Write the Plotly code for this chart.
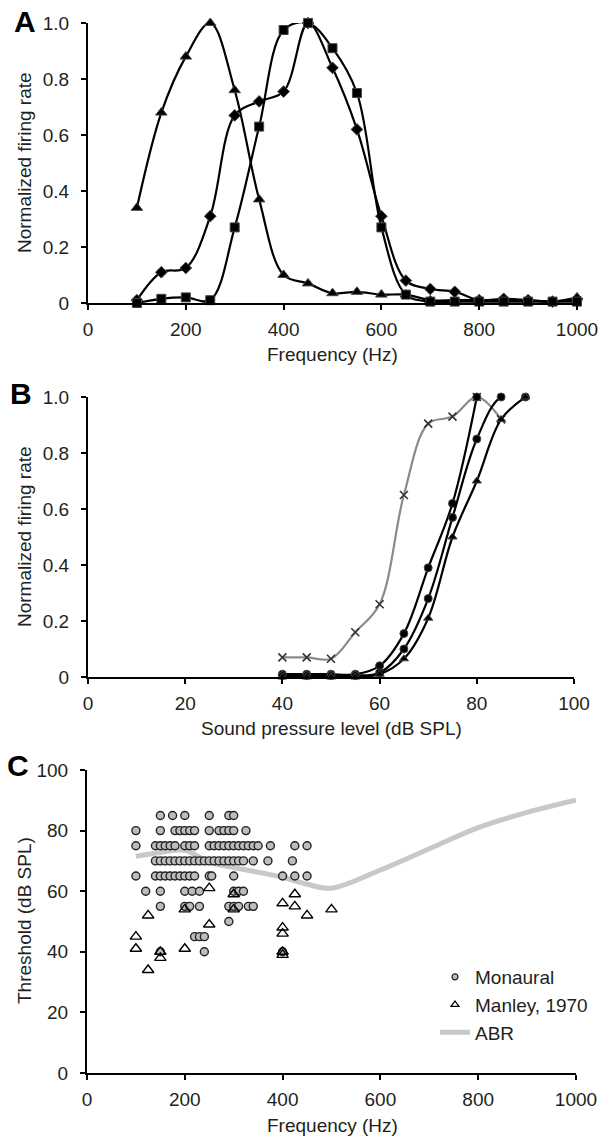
import plotly.graph_objects as go

# ---------------- Panel A: frequency tuning ----------------
freq_a = [100, 150, 200, 250, 300, 350, 400, 450, 500, 550, 600, 650, 700, 750, 800, 850, 900, 950, 1000]
tri_a = [0.34, 0.68, 0.88, 1.0, 0.76, 0.37, 0.10, 0.07, 0.035, 0.04, 0.03, 0.03, 0.01, 0.01, 0.01, 0.01, 0.01, 0.005, 0.02]
sq_a = [0.0, 0.015, 0.02, 0.01, 0.27, 0.63, 0.975, 1.0, 0.91, 0.75, 0.27, 0.03, 0.005, 0.005, 0.005, 0.005, 0.005, 0.005, 0.005]
dia_a = [0.01, 0.11, 0.125, 0.31, 0.67, 0.72, 0.755, 1.0, 0.84, 0.62, 0.31, 0.08, 0.05, 0.04, 0.01, 0.015, 0.01, 0.005, 0.015]

# ---------------- Panel B: rate-level functions ----------------
spl_b = [40, 45, 50, 55, 60, 65, 70, 75, 80, 85, 90]
gray_b = [0.07, 0.07, 0.065, 0.16, 0.26, 0.65, 0.905, 0.93, 1.0, 0.92]
s1_b = [0.01, 0.01, 0.01, 0.01, 0.04, 0.155, 0.39, 0.62, 1.0]
s2_b = [0.005, 0.005, 0.005, 0.005, 0.015, 0.10, 0.28, 0.57, 0.85, 1.0, 1.0]
s3_b = [0.0, 0.0, 0.0, 0.0, 0.01, 0.065, 0.21, 0.50, 0.70, 0.92, 1.0]

# ---------------- Panel C: thresholds ----------------
mon_85 = [150, 175, 200, 250, 290, 300]
mon_80 = [100, 150, 180, 190, 200, 210, 220, 250, 270, 280, 290, 300, 325]
mon_75 = [100, 140, 150, 160, 170, 180, 200, 210, 220, 250, 260, 270, 280, 290, 300, 310, 320, 330, 340, 350, 375, 425, 450]
mon_70 = [140, 150, 160, 170, 180, 190, 200, 210, 220, 230, 240, 250, 260, 270, 280, 290, 300, 310, 320, 340, 370, 420]
mon_65 = [100, 140, 150, 160, 170, 180, 190, 200, 210, 220, 250, 255, 300, 400, 425, 450]
mon_60 = [120, 150, 200, 215, 230, 300, 310, 320]
mon_55 = [150, 200, 210, 230, 290, 300, 310, 330, 340]
mon_50 = [290]
mon_45 = [220, 230, 240]
mon_40 = [150, 240, 400]
mon_rows = {85: mon_85, 80: mon_80, 75: mon_75, 70: mon_70, 65: mon_65,
            60: mon_60, 55: mon_55, 50: mon_50, 45: mon_45, 40: mon_40}

man_freq = [100, 100, 125, 125, 150, 150, 200, 200, 250, 250, 300, 300, 400, 400, 400, 400, 400, 425, 425, 450, 500]
man_thr = [45, 41, 52, 34, 40, 38, 54, 41, 61, 49, 59, 54, 56, 48, 46, 40, 39, 59, 55, 52, 54]

abr_freq = [100, 150, 200, 250, 300, 400, 450, 500, 600, 700, 800, 900, 1000]
abr_thr = [71.5, 72.8, 73.5, 69.6, 67.8, 64.6, 62.3, 61, 67, 74, 81, 86, 90]

ticks_a_y = [0, 0.2, 0.4, 0.6, 0.8, 1.0]
ticks_a_y_text = ["0", "0.2", "0.4", "0.6", "0.8", "1.0"]
ticks_freq = [0, 200, 400, 600, 800, 1000]
ticks_spl = [0, 20, 40, 60, 80, 100]
ticks_thr = [0, 20, 40, 60, 80, 100]

W, H = 603, 1138
FONT = "Liberation Sans, Arial, sans-serif"
TXT = "#231f20"

mon_x = [f for thr, fl in mon_rows.items() for f in fl]
mon_y = [thr for thr, fl in mon_rows.items() for f in fl]

fig = go.Figure()

line_k = dict(color="black", width=2.2, shape="spline", smoothing=1)
mk_edge = dict(color="#444", width=1)

# Panel A
fig.add_trace(go.Scatter(x=freq_a, y=tri_a, mode="lines+markers", line=line_k, cliponaxis=False,
                         marker=dict(symbol="triangle-up", size=10, color="black", line=mk_edge),
                         xaxis="x", yaxis="y", showlegend=False))
fig.add_trace(go.Scatter(x=freq_a, y=dia_a, mode="lines+markers", line=line_k, cliponaxis=False,
                         marker=dict(symbol="diamond", size=9, color="black", line=mk_edge),
                         xaxis="x", yaxis="y", showlegend=False))
fig.add_trace(go.Scatter(x=freq_a, y=sq_a, mode="lines+markers", line=line_k, cliponaxis=False,
                         marker=dict(symbol="square", size=9, color="black", line=mk_edge),
                         xaxis="x", yaxis="y", showlegend=False))

# Panel B
fig.add_trace(go.Scatter(x=spl_b[:len(gray_b)], y=gray_b, mode="lines+markers", cliponaxis=False,
                         line=dict(color="#8a8a8a", width=2.2, shape="spline", smoothing=1),
                         marker=dict(symbol="x-thin", size=8, color="#333", line=dict(color="#333", width=1.6)),
                         xaxis="x2", yaxis="y2", showlegend=False))
fig.add_trace(go.Scatter(x=spl_b[:len(s1_b)], y=s1_b, mode="lines+markers", line=line_k, cliponaxis=False,
                         marker=dict(symbol="circle", size=8, color="black", line=mk_edge),
                         xaxis="x2", yaxis="y2", showlegend=False))
fig.add_trace(go.Scatter(x=spl_b, y=s2_b, mode="lines+markers", line=line_k, cliponaxis=False,
                         marker=dict(symbol="circle", size=8, color="black", line=mk_edge),
                         xaxis="x2", yaxis="y2", showlegend=False))
fig.add_trace(go.Scatter(x=spl_b, y=s3_b, mode="lines+markers", line=line_k, cliponaxis=False,
                         marker=dict(symbol="triangle-up", size=8, color="black", line=mk_edge),
                         xaxis="x2", yaxis="y2", showlegend=False))

# Panel C
fig.add_trace(go.Scatter(x=abr_freq, y=abr_thr, mode="lines",
                         line=dict(color="#c8c8c8", width=5, shape="spline", smoothing=1),
                         xaxis="x3", yaxis="y3", showlegend=False))
fig.add_trace(go.Scatter(x=mon_x, y=mon_y, mode="markers",
                         marker=dict(symbol="circle", size=8, color="#bdbdbd", line=dict(color="#222", width=1.4)),
                         xaxis="x3", yaxis="y3", showlegend=False))
fig.add_trace(go.Scatter(x=man_freq, y=man_thr, mode="markers",
                         marker=dict(symbol="triangle-up-open", size=10, color="black", line=dict(color="black", width=1.4)),
                         xaxis="x3", yaxis="y3", showlegend=False))
# legend entries
fig.add_trace(go.Scatter(x=[None], y=[None], mode="markers", name="Monaural",
                         marker=dict(symbol="circle", size=6, color="#bdbdbd", line=dict(color="#222", width=1.2)),
                         xaxis="x3", yaxis="y3"))
fig.add_trace(go.Scatter(x=[None], y=[None], mode="markers", name="Manley, 1970",
                         marker=dict(symbol="triangle-up-open", size=7, color="black", line=dict(color="black", width=1.2)),
                         xaxis="x3", yaxis="y3"))
fig.add_trace(go.Scatter(x=[None], y=[None], mode="lines", name="ABR",
                         line=dict(color="#c8c8c8", width=5), xaxis="x3", yaxis="y3"))


def xdom(l, r):
    return [l / W, r / W]


def ydom(top, bottom):
    return [1 - bottom / H, 1 - top / H]


axis_common = dict(showline=True, linecolor="black", linewidth=2, ticks="outside", ticklen=5,
                   tickwidth=2, tickcolor="black", showgrid=False, zeroline=False,
                   tickfont=dict(family=FONT, size=19, color=TXT), automargin=False, fixedrange=True)

fig.update_layout(
    width=W, height=H, margin=dict(l=0, r=0, t=0, b=0),
    paper_bgcolor="white", plot_bgcolor="white",
    font=dict(family=FONT, size=19, color=TXT),
    xaxis=dict(domain=xdom(88, 577), anchor="y", range=[0, 1000], tickvals=ticks_freq,
               ticklabelstandoff=3, **axis_common),
    yaxis=dict(domain=ydom(23, 303), anchor="x", range=[0, 1], tickvals=ticks_a_y,
               ticktext=ticks_a_y_text, ticklabelstandoff=8, **axis_common),
    xaxis2=dict(domain=xdom(88, 574), anchor="y2", range=[0, 100], tickvals=ticks_spl,
                ticklabelstandoff=3, **axis_common),
    yaxis2=dict(domain=ydom(397, 677), anchor="x2", range=[0, 1], tickvals=ticks_a_y,
                ticktext=ticks_a_y_text, ticklabelstandoff=8, **axis_common),
    xaxis3=dict(domain=xdom(87, 576), anchor="y3", range=[0, 1000], tickvals=ticks_freq,
                ticklabelstandoff=3, **axis_common),
    yaxis3=dict(domain=ydom(770, 1073), anchor="x3", range=[0, 100], tickvals=ticks_thr,
                ticklabelstandoff=8, **axis_common),
    legend=dict(x=435 / W, y=1 - 958 / H, xanchor="left", yanchor="top",
                font=dict(family=FONT, size=19, color=TXT), bgcolor="rgba(0,0,0,0)",
                itemwidth=30, tracegroupgap=0),
    showlegend=True,
)

ann = []


def add_text(text, x, y, size=19, angle=0, bold=False, xanchor="center"):
    ann.append(dict(text=("<b>%s</b>" % text) if bold else text, x=x / W, y=1 - y / H,
                    xref="paper", yref="paper", showarrow=False, textangle=angle,
                    xanchor=xanchor, yanchor="middle",
                    font=dict(family=FONT, size=size, color=TXT if not bold else "black")))


add_text("Normalized firing rate", 24, 163, angle=-90)
add_text("Frequency (Hz)", 332, 354)
add_text("Normalized firing rate", 24, 537, angle=-90)
add_text("Sound pressure level (dB SPL)", 331, 728)
add_text("Threshold (dB SPL)", 24, 921, angle=-90)
add_text("Frequency (Hz)", 332, 1125)
add_text("A", 12, 22, size=30, bold=True, xanchor="left")
add_text("B", 8, 393, size=30, bold=True, xanchor="left")
add_text("C", 5, 765, size=30, bold=True, xanchor="left")
fig.update_layout(annotations=ann)

fig.write_html(
    "out.html",
    config={"displayModeBar": False, "staticPlot": True},
    post_script="document.body.style.margin='0';document.body.style.overflow='hidden';",
)
